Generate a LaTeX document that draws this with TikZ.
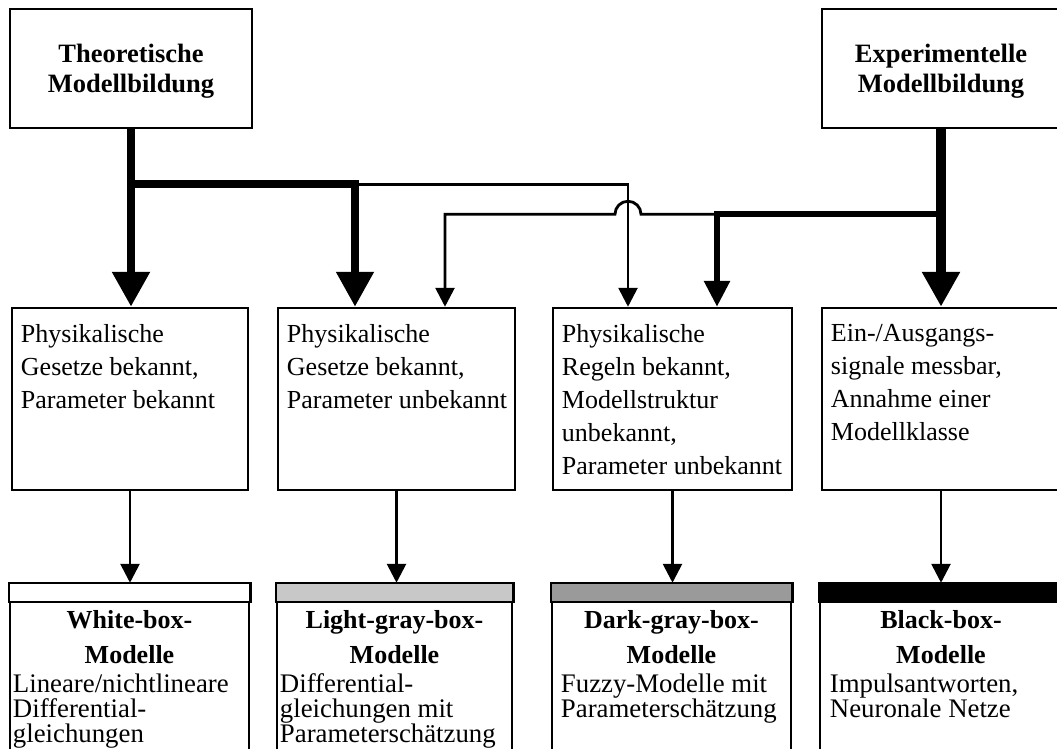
\documentclass[tikz,border=0pt]{standalone}
\usepackage{fontspec}
\setmainfont{Liberation Serif}
\usetikzlibrary{arrows.meta,calc}
\definecolor{lightstrip}{HTML}{C8C8C8}
\definecolor{darkstrip}{HTML}{9A9A9A}
\lineskiplimit=-50pt
\begin{document}
\begin{tikzpicture}[x=1pt,y=-1pt,
  box/.style={draw,line width=2.5pt,inner sep=0pt,fill=white},
  headtext/.style={inner sep=0pt,align=center,font=\bfseries\fontsize{26.5}{30}\selectfont},
  midtext/.style={inner sep=0pt,align=left,font=\fontsize{26}{33}\selectfont},
  titletext/.style={inner sep=0pt,align=center,anchor=north,font=\bfseries\fontsize{26}{35}\selectfont},
  bodytext/.style={inner sep=0pt,align=left,anchor=north west,font=\fontsize{26.8}{25}\selectfont},
  heavy/.style={line width=8.5pt,-{Triangle[length=35pt,width=36pt]}},
  medium/.style={line width=6pt,-{Triangle[length=26pt,width=25pt]}},
  light/.style={line width=2.8pt,-{Triangle[length=19pt,width=19pt]}},
  strip/.style={draw,line width=2.5pt}
]
\useasboundingbox (0,0) rectangle (1057,749);
\fill[white] (0,0) rectangle (1057,749);

% top boxes
\node[box,minimum width=242pt,minimum height=119pt] (theo) at (131,68.5) {};
\node[headtext] (theot) at ([yshift=-3pt]theo.center) {Theoretische\\Modellbildung};
\node[box,minimum width=238pt,minimum height=119pt] (exp) at (941,68.5) {};
\node[headtext] (expt) at ([yshift=-3pt]exp.center) {Experimentelle\\Modellbildung};

% middle boxes
\node[box,minimum width=236pt,minimum height=182pt] (m1) at (130,399) {};
\node[box,minimum width=237pt,minimum height=182pt] (m2) at (396.5,399) {};
\node[box,minimum width=239pt,minimum height=182pt] (m3) at (672.5,399) {};
\node[box,minimum width=238pt,minimum height=182pt] (m4) at (941,399) {};
\node[midtext,anchor=north west] (m1t) at ([xshift=10pt,yshift=-17.5pt]m1.north west) {Physikalische\\Gesetze bekannt,\\Parameter bekannt};
\node[midtext,anchor=north west] (m2t) at ([xshift=10pt,yshift=-17.5pt]m2.north west) {Physikalische\\Gesetze bekannt,\\Parameter unbekannt};
\node[midtext,anchor=north west] (m3t) at ([xshift=10pt,yshift=-17.5pt]m3.north west) {Physikalische\\Regeln bekannt,\\Modellstruktur\\unbekannt,\\Parameter unbekannt};
\node[midtext,anchor=north west] (m4t) at ([xshift=10pt,yshift=-17.5pt]m4.north west) {Ein-/Ausgangs-\\signale messbar,\\Annahme einer\\Modellklasse};

% bottom boxes
\node[box,minimum width=239pt,minimum height=186pt] (b1) at (129.5,677) {};
\node[box,minimum width=235pt,minimum height=186pt] (b2) at (394.5,677) {};
\node[box,minimum width=239pt,minimum height=186pt] (b3) at (671.5,677) {};
\node[box,minimum width=242pt,minimum height=186pt] (b4) at (941,677) {};
\draw[strip,fill=white] (b1.north west) rectangle ([yshift=-19pt]b1.north east);
\draw[strip,fill=lightstrip] (b2.north west) rectangle ([yshift=-19pt]b2.north east);
\draw[strip,fill=darkstrip] (b3.north west) rectangle ([yshift=-19pt]b3.north east);
\draw[strip,fill=black] (b4.north west) rectangle ([yshift=-19pt]b4.north east);
\node[titletext] (b1h) at ([yshift=-28pt]b1.north) {White-box-\\Modelle};
\node[titletext] (b2h) at ([yshift=-28pt]b2.north) {Light-gray-box-\\Modelle};
\node[titletext] (b3h) at ([yshift=-28pt]b3.north) {Dark-gray-box-\\Modelle};
\node[titletext] (b4h) at ([yshift=-28pt]b4.north) {Black-box-\\Modelle};
\node[bodytext] (b1t) at ([xshift=4pt,yshift=-91pt]b1.north west) {Lineare/nichtlineare\\Differential-\\gleichungen};
\node[bodytext] (b2t) at ([xshift=4pt,yshift=-91pt]b2.north west) {Differential-\\gleichungen mit\\Parameterschätzung};
\node[bodytext] (b3t) at ([xshift=10pt,yshift=-91pt]b3.north west) {Fuzzy-Modelle mit\\Parameterschätzung};
\node[bodytext] (b4t) at ([xshift=11pt,yshift=-91pt]b4.north west) {Impulsantworten,\\Neuronale Netze};

% entry points and junctions
\coordinate (a1) at (theo.south |- m1.north);
\coordinate (a2L) at ([xshift=-41.5pt]m2.north);
\coordinate (a2R) at ([xshift=48.5pt]m2.north);
\coordinate (a3L) at ([xshift=-44.5pt]m3.north);
\coordinate (a3R) at ([xshift=44.5pt]m3.north);
\coordinate (a4) at (exp.south |- m4.north);
\path (theo.south) ++(0,55) coordinate (jT);
\path (exp.south) ++(0,85) coordinate (jE);
\coordinate (jT2) at (a2L |- jT);
\coordinate (jE2) at (a3R |- jE);
\coordinate (cross) at (a3L |- jE);

% connectors
\draw[heavy] (theo.south) -- (a1);
\draw[heavy,line width=8pt] (jT) -| (a2L);
\draw[light] (jT2) -| (a3L);
\draw[heavy,line width=10pt] (exp.south) -- (a4);
\draw[medium] (jE) -| (a3R);
\draw[light] (jE2) -- ([xshift=13pt]cross) arc[start angle=0,end angle=-180,radius=13] -| (a2R);

\draw[light] (m1.south) -- (m1.south |- b1.north);
\draw[light] (m2.south) -- (m2.south |- b2.north);
\draw[light] (m3.south) -- (m3.south |- b3.north);
\draw[light] (m4.south) -- (m4.south |- b4.north);
\end{tikzpicture}
\end{document}
